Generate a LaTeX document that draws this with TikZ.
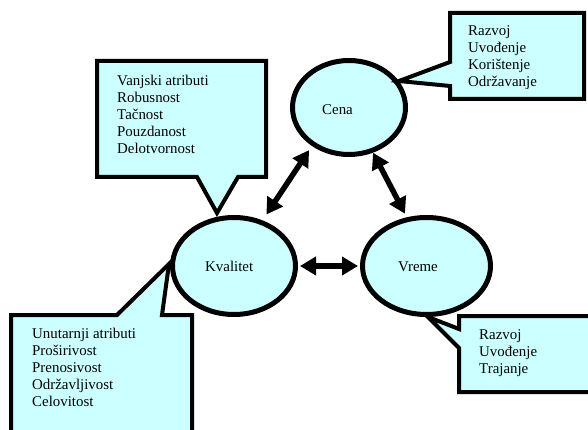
\documentclass[tikz,border=0pt]{standalone}
\usepackage{fontspec}
\setmainfont{Liberation Serif}
\usetikzlibrary{shapes.geometric,arrows.meta}
\definecolor{cyanfill}{HTML}{CCFFFF}
\tikzset{
  bubble/.style={ellipse,draw=black,fill=cyanfill,line width=5pt,inner sep=0pt},
  callout/.style={draw=black,fill=cyanfill,line width=4pt,line join=miter,miter limit=20},
  lbl/.style={anchor=base west,inner sep=0pt,font=\fontsize{14.9}{17}\selectfont},
  link/.style={line width=5.5pt,{Triangle[length=16pt,width=18pt]}-{Triangle[length=16pt,width=18pt]}}
}
\newcommand{\linesof}[1]{\begin{tabular}[t]{@{}l@{}}#1\end{tabular}}
\begin{document}
\begin{tikzpicture}[x=1pt,y=-1pt]
\useasboundingbox (0,0) rectangle (588,430);
\clip (0,0) rectangle (588,430);
% ellipses
\node[bubble,minimum width=113pt,minimum height=94pt] (cena) at (349,107.5) {};
\node[bubble,minimum width=123pt,minimum height=97pt] (kval) at (234,266) {};
\node[bubble,minimum width=128pt,minimum height=97pt] (vreme) at (426.5,266) {};
\node[lbl] (tcena) at (322,115) {Cena};
\node[lbl] (tkval) at (205,271) {Kvalitet};
\node[lbl] (tvreme) at (398,271) {Vreme};
% callouts
\draw[callout] (97,61) -- (266,61) -- (266,177) -- (238,177) -- (217,213) -- (197,177) -- (97,177) -- cycle;
\node[lbl] (t1) at (117,86) {\linesof{Vanjski atributi\\Robusnost\\Tačnost\\Pouzdanost\\Delotvornost}};
\draw[callout] (450,13) -- (584,13) -- (584,99) -- (450,99) -- (450,86) -- (399,81) -- (450,62) -- cycle;
\begin{scope}
\clip (452,15) rectangle (582,89);
\node[lbl] (t2) at (468,36) {\linesof{Razvoj\\Uvođenje\\Korištenje\\Održavanje}};
\end{scope}
\draw[callout] (11,315) -- (117,315) -- (169,264) -- (162,315) -- (192,315) -- (192,445) -- (11,445) -- cycle;
\node[lbl] (t3) at (32,338) {\linesof{Unutarnji atributi\\Proširivost\\Prenosivost\\Održavljivost\\Celovitost}};
\draw[callout] (459,316) -- (600,316) -- (600,392) -- (459,392) -- (459,348) -- (428,317) -- (459,329) -- cycle;
\node[lbl] (t4) at (479,339) {\linesof{Razvoj\\Uvođenje\\Trajanje}};
% connectors
\draw[link,shorten <=7pt,shorten >=5pt] (kval.58) -- (cena.226);
\draw[link,shorten <=0pt,shorten >=4pt] (cena.298) -- (vreme.112.5);
\draw[link,shorten <=2pt,shorten >=2pt] (kval.east) -- (vreme.west);
\end{tikzpicture}
\end{document}
